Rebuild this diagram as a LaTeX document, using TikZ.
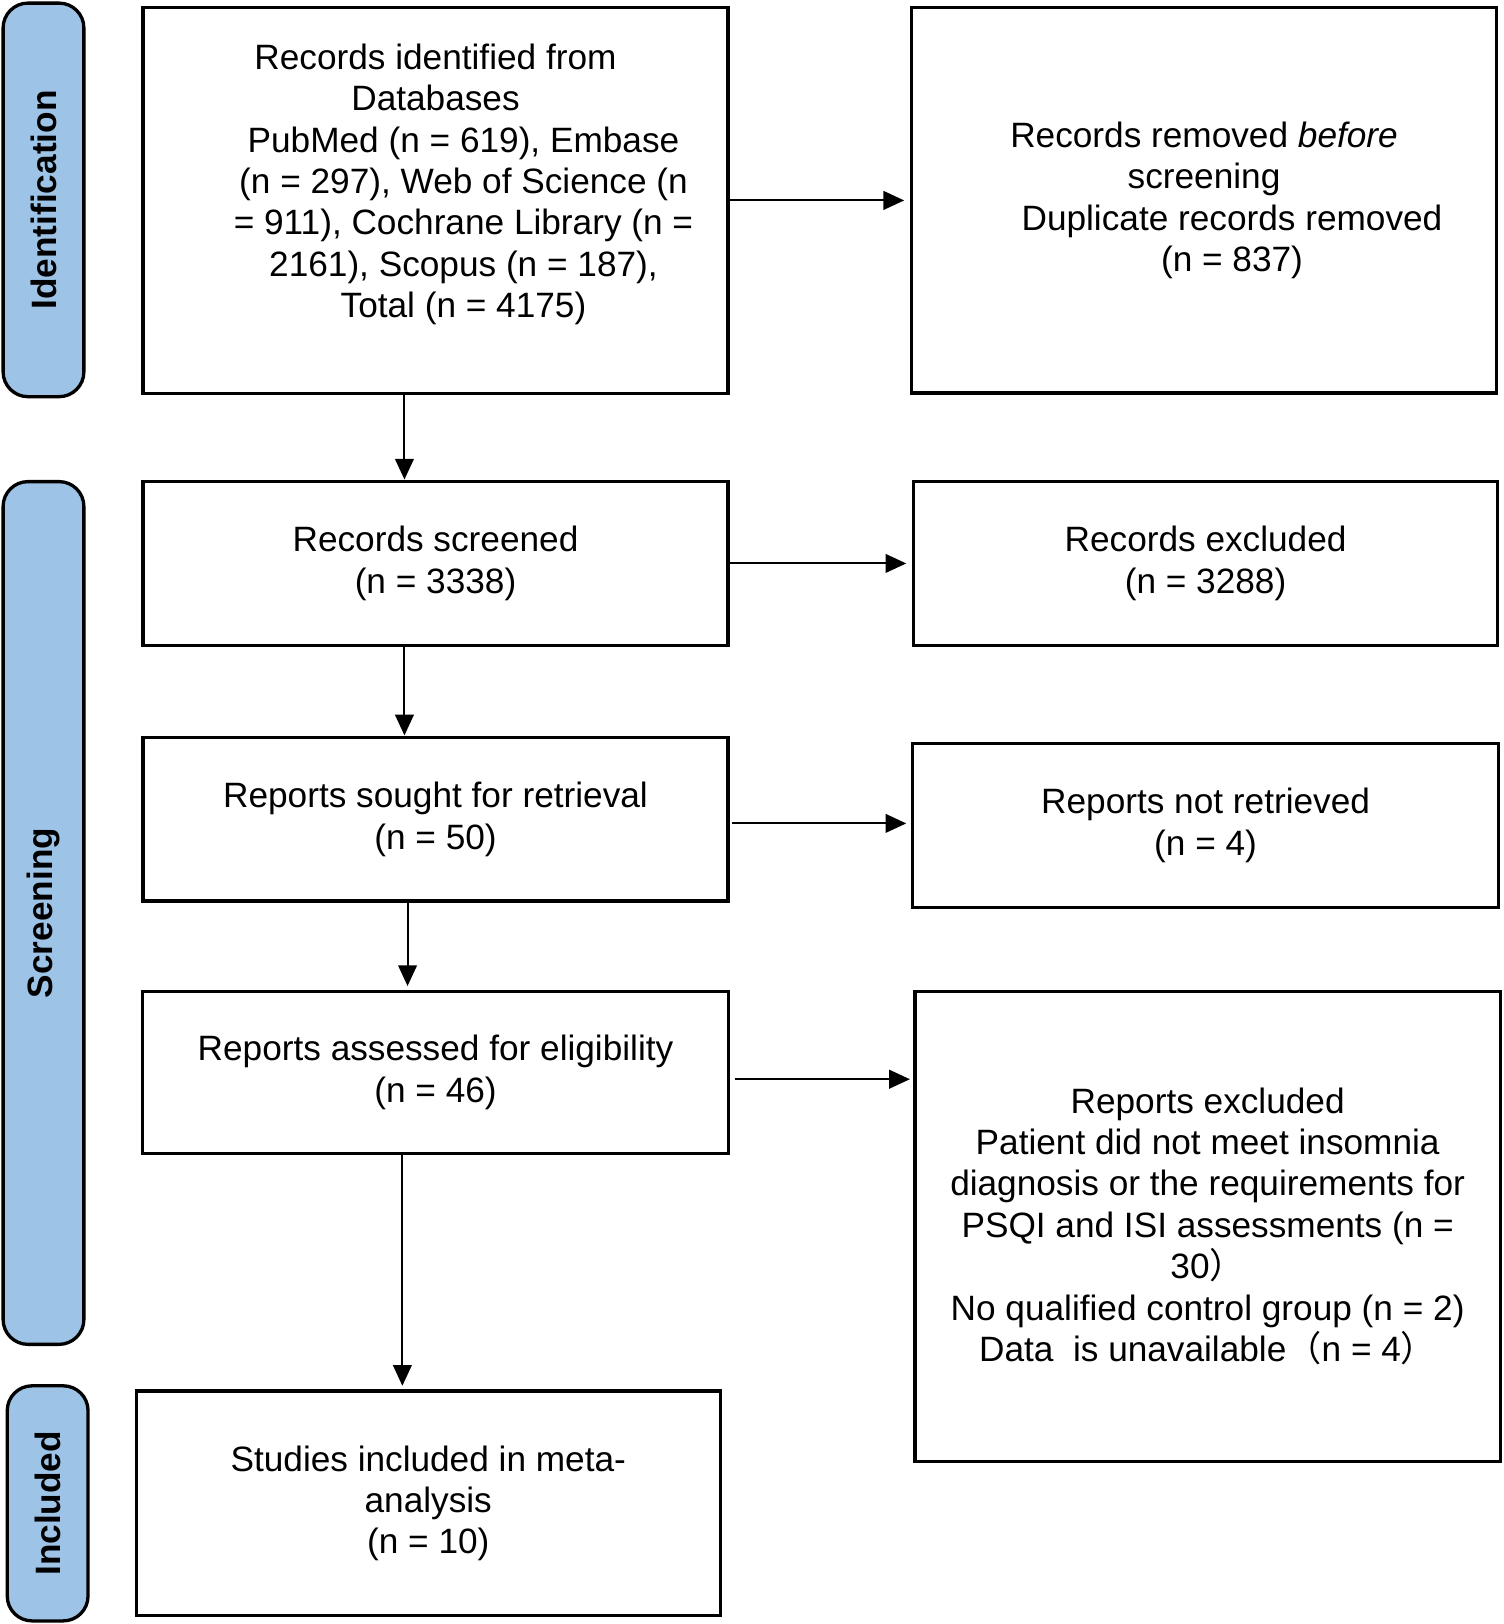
\documentclass[tikz,border=0pt]{standalone}
\usepackage{fontspec}
\setmainfont{Liberation Sans}
\newfontfamily\cjk{Noto Sans CJK SC}
\usepackage{tikz}
\usetikzlibrary{
        arrows.meta,
        positioning
    }
\definecolor{tabblue}{RGB}{157,195,230}
\tikzset{>={Triangle[length=10pt,width=9pt]},shorten >=1pt,node distance=2cm}
\tikzset{
    box/.style={draw,line width=1.6pt,align=center,inner sep=0pt,outer sep=0pt,font=\fontsize{17}{20}\selectfont},
    phase/.style={draw,line width=1.6pt,fill=tabblue,rounded corners=12pt,rotate=90,minimum height=39pt,inner sep=0pt,font=\bfseries\fontsize{17}{20}\selectfont},
    flow/.style={->,line width=1pt}
}
\newcommand{\ind}{\hspace*{27pt}}

\begin{document}
\begin{tikzpicture}[x=0.5pt,y=-0.5pt]
                    \useasboundingbox (0,0) rectangle (1452,1568);
                    % phases
                    \node[phase,minimum width=190pt] (idt) at (42,193) {Identification};
                    \node[phase,minimum width=416.5pt] (scrt) at (42,881.5) {Screening};
                    \node[phase,minimum width=113.5pt] (inct) at (46,1451.5) {Included};
                    % left column
                    \node[box,minimum width=282.5pt,minimum height=186.5pt] (id) at (420.5,193.5)
                        {Records identified from\\ Databases\\ \ind PubMed (n = 619), Embase\\ \ind (n = 297), Web of Science (n\\ \ind = 911), Cochrane Library (n =\\ \ind 2161), Scopus (n = 187),\\ \ind Total (n = 4175)\\[-7pt] \strut};
                    \node[box,minimum width=282.5pt,minimum height=79pt] (scr) [below=42.5pt of id]
                        {Records screened\\ (n = 3338)};
                    \node[box,minimum width=282.5pt,minimum height=79pt] (ret) [below=44.5pt of scr]
                        {Reports sought for retrieval\\ (n = 50)};
                    \node[box,minimum width=283pt,minimum height=78.5pt] (elig) [below=43.5pt of ret]
                        {Reports assessed for eligibility\\ (n = 46)};
                    \node[box,minimum width=282pt,minimum height=108.5pt] (inc) [below=114.5pt of elig,xshift=-3.5pt]
                        {Studies included in meta-\\ analysis\\ (n = 10)};
                    % right column
                    \node[box,minimum width=282.5pt,minimum height=186pt] (rem) [right=88.5pt of id]
                        {Records removed \emph{before}\\ screening\\ \ind Duplicate records removed\\ \ind (n = 837)};
                    \node[box,minimum width=282pt,minimum height=79pt] (exc) [right=89.5pt of scr]
                        {Records excluded\\ (n = 3288)};
                    \node[box,minimum width=283pt,minimum height=79pt] (nret) [right=89pt of ret,yshift=-3pt]
                        {Reports not retrieved\\ (n = 4)};
                    \node[box,minimum width=282.5pt,minimum height=227pt] (rexc) [right=90pt of elig.north east,anchor=north west]
                        {Reports excluded\\ Patient did not meet insomnia\\ diagnosis or the requirements for\\ PSQI and ISI assessments (n =\\ 30{\cjk ）}\\ No qualified control group (n = 2)\\ Data\ \ is unavailable{\cjk （}n = 4{\cjk ）}};
                    \path[flow]
                        ([xshift=-15pt]id.south) edge ([xshift=-15pt]id.south |- scr.north)
                        ([xshift=-15pt]scr.south) edge ([xshift=-15pt]scr.south |- ret.north)
                        ([xshift=-13.5pt]ret.south) edge[shorten >=2.5pt] ([xshift=-13.5pt]ret.south |- elig.north)
                        ([xshift=-16pt]elig.south) edge[shorten >=2.5pt] ([xshift=-16pt]elig.south |- inc.north)
                        (id.east) edge[shorten >=3.5pt] (id.east -| rem.west)
                        (scr.east) edge[shorten >=3.5pt] (scr.east -| exc.west)
                        ([yshift=-2pt]ret.east) edge[shorten <=2pt,shorten >=3pt] ([yshift=-2pt]ret.east -| nret.west)
                        ([yshift=-3.25pt]elig.east) edge[shorten <=3pt,shorten >=2.5pt] ([yshift=-3.25pt]elig.east -| rexc.west)
                    ;
                \end{tikzpicture}
\end{document}
